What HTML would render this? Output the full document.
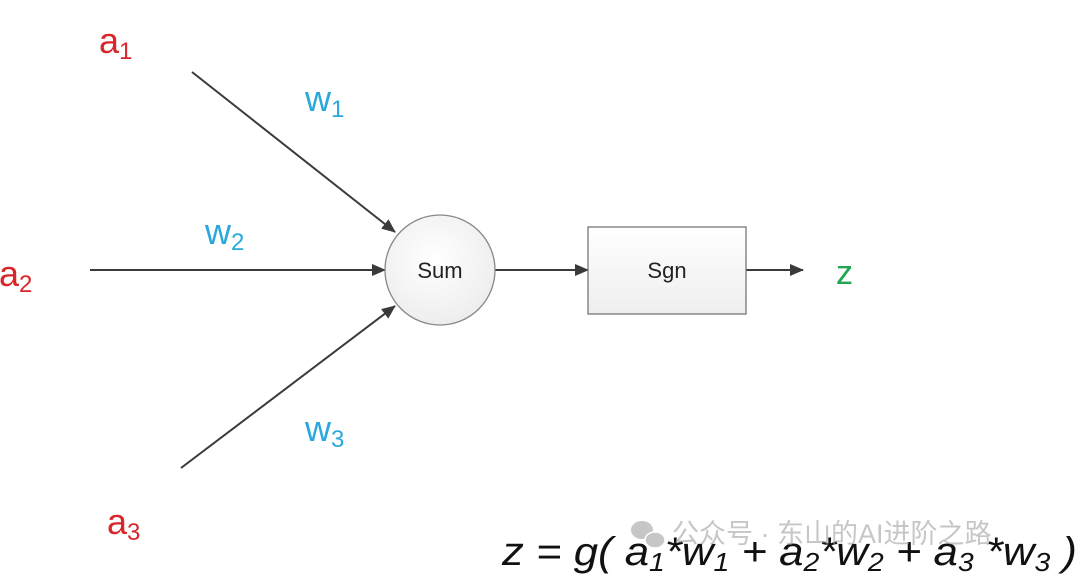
<!DOCTYPE html>
<html><head><meta charset="utf-8"><style>
html,body{margin:0;padding:0;background:#fff;}
svg{display:block;}
text{font-family:"Liberation Sans","Noto Sans CJK SC",sans-serif;}
</style></head><body>
<svg width="1080" height="577" viewBox="0 0 1080 577" xmlns="http://www.w3.org/2000/svg">
<defs>
<marker id="ar" markerWidth="14" markerHeight="12" refX="13" refY="6" orient="auto" markerUnits="userSpaceOnUse" viewBox="0 0 14 12">
<path d="M0,0 L14,6 L0,12 z" fill="#3a3a3a"/>
</marker>
<radialGradient id="cg" cx="45%" cy="40%" r="65%"><stop offset="0" stop-color="#ffffff"/><stop offset="1" stop-color="#ececec"/></radialGradient>
<linearGradient id="bg" x1="0" y1="0" x2="0" y2="1"><stop offset="0" stop-color="#ffffff"/><stop offset="1" stop-color="#eeeeee"/></linearGradient>
</defs>
<g stroke="#3a3a3a" stroke-width="2" fill="none">
<line x1="192" y1="72" x2="395" y2="232" marker-end="url(#ar)"/>
<line x1="90" y1="270" x2="385" y2="270" marker-end="url(#ar)"/>
<line x1="181" y1="468" x2="395" y2="306" marker-end="url(#ar)"/>
<line x1="495" y1="270" x2="588" y2="270" marker-end="url(#ar)"/>
<line x1="746" y1="270" x2="803" y2="270" marker-end="url(#ar)"/>
</g>
<circle cx="440" cy="270" r="55" fill="url(#cg)" stroke="#888" stroke-width="1.3"/>
<rect x="588" y="227" width="158" height="87" fill="url(#bg)" stroke="#777" stroke-width="1.3"/>
<text x="440" y="278" font-size="22" text-anchor="middle" fill="#222">Sum</text>
<text x="667" y="278" font-size="22" text-anchor="middle" fill="#222">Sgn</text>
<g fill="#d9262a" font-size="36">
<text x="99" y="53">a<tspan font-size="24" dy="6">1</tspan></text>
<text x="-1" y="286">a<tspan font-size="24" dy="6">2</tspan></text>
<text x="107" y="534">a<tspan font-size="24" dy="6">3</tspan></text>
</g>
<g fill="#29a8dc" font-size="36">
<text x="305" y="111">w<tspan font-size="24" dy="6">1</tspan></text>
<text x="205" y="244">w<tspan font-size="24" dy="6">2</tspan></text>
<text x="305" y="441">w<tspan font-size="24" dy="6">3</tspan></text>
</g>
<text x="836" y="284" font-size="34" fill="#1fa650">z</text>
<text x="502" y="565" font-size="40" font-style="italic" fill="#111" textLength="575" lengthAdjust="spacingAndGlyphs">z = g( a<tspan font-size="26" dy="6">1</tspan><tspan dy="-6">*w</tspan><tspan font-size="26" dy="6">1</tspan><tspan dy="-6"> + a</tspan><tspan font-size="26" dy="6">2</tspan><tspan dy="-6">*w</tspan><tspan font-size="26" dy="6">2</tspan><tspan dy="-6"> + a</tspan><tspan font-size="26" dy="6">3</tspan><tspan dy="-6"> *w</tspan><tspan font-size="26" dy="6">3</tspan><tspan dy="-6"> )</tspan></text>
<g opacity="0.55">
<ellipse cx="642" cy="530" rx="11" ry="9" fill="#999"/>
<ellipse cx="655" cy="540" rx="10" ry="8" fill="#999" stroke="#fff" stroke-width="1.5"/>
<text x="672" y="543" font-size="27" fill="#999">公众号 · 东山的AI进阶之路</text>
</g>
</svg>
</body></html>
